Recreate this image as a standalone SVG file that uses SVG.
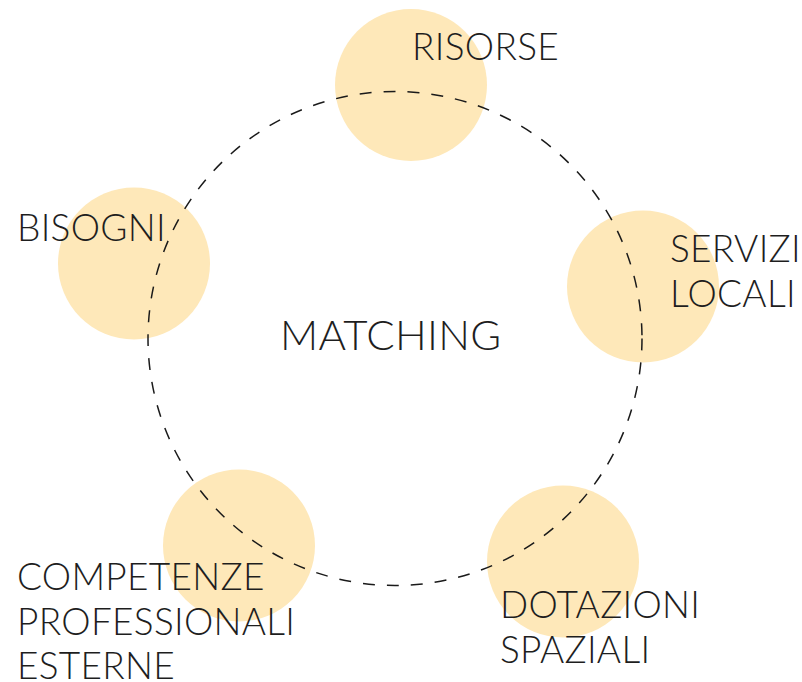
<svg xmlns="http://www.w3.org/2000/svg" width="802" height="682" viewBox="0 0 802 682">
<style>
.blob{fill:#fee8b9}
.lbl{font-family:Lato,"Open Sans","Liberation Sans",sans-serif;font-weight:300;font-size:37px;fill:#1e1e1e;letter-spacing:0.3px}
.ring{fill:none;stroke:#1a1a1a;stroke-width:1.5;stroke-dasharray:12 12}
</style>
<rect width="802" height="682" fill="#ffffff"/>
<g id="node-risorse"><circle class="blob" cx="411" cy="85" r="76"/></g>
<g id="node-bisogni"><circle class="blob" cx="134" cy="263.5" r="76"/></g>
<g id="node-servizi"><circle class="blob" cx="643" cy="286.5" r="76"/></g>
<g id="node-competenze"><circle class="blob" cx="239" cy="545.5" r="76"/></g>
<g id="node-dotazioni"><circle class="blob" cx="563" cy="561.5" r="76"/></g>
<g id="connectors"><circle class="ring" cx="395" cy="338.5" r="247"/></g>
<g id="labels">
<text class="lbl" x="412" y="60">RISORSE</text>
<text class="lbl" x="17" y="241">BISOGNI</text>
<text class="lbl" x="670" y="262">SERVIZI</text>
<text class="lbl" x="670" y="307">LOCALI</text>
<text class="lbl" x="280" y="350" style="font-size:42px">MATCHING</text>
<text class="lbl" x="17" y="590">COMPETENZE</text>
<text class="lbl" x="17" y="635">PROFESSIONALI</text>
<text class="lbl" x="17" y="679">ESTERNE</text>
<text class="lbl" x="500" y="618">DOTAZIONI</text>
<text class="lbl" x="500" y="663">SPAZIALI</text>
</g>
</svg>
